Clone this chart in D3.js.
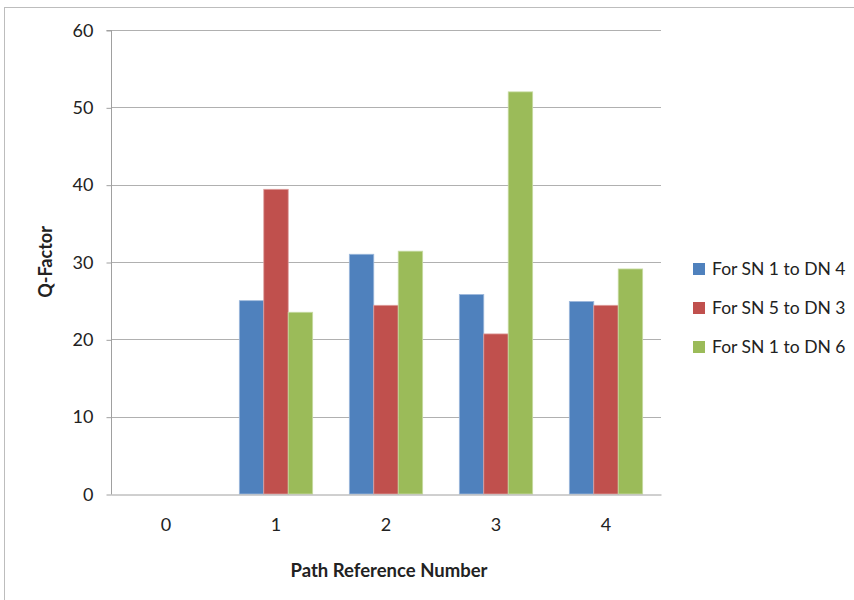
<!DOCTYPE html>
<html><head><meta charset="utf-8">
<script src="https://cdn.jsdelivr.net/npm/d3@7"></script>
<style>
html,body{margin:0;padding:0;background:#fff;}
text{font-family:Lato,"Open Sans",sans-serif;fill:#222;}
</style></head>
<body>
<svg id="chart" width="854" height="600"></svg>
<script>
const categories = ["0","1","2","3","4"];
const seriesNames = ["For SN 1 to DN 4","For SN 5 to DN 3","For SN 1 to DN 6"];
const sn1dn4 = [0, 25, 31, 25.8, 24.9];
const sn5dn3 = [0, 39.4, 24.4, 20.7, 24.4];
const sn1dn6 = [0, 23.5, 31.4, 52, 29.1];
const yTicks = [0,10,20,30,40,50,60];
const colors = ["#4F81BD","#C0504D","#9BBB59"];
const strokes = ["#9DB9DC","#DE9E9C","#C7DBA3"];
const series = [sn1dn4, sn5dn3, sn1dn6];

const svg = d3.select("#chart");
const L = 111, R = 661, T = 30, B = 494;

// outer frame
svg.append("rect").attr("x",4.5).attr("y",7.5).attr("width",870).attr("height",620)
  .attr("fill","none").attr("stroke","#bdbdbd").attr("stroke-width",1);

const x = d3.scaleBand().domain(categories).range([L,R]);
const xs = d3.scaleBand().domain(d3.range(3)).range([0,x.bandwidth()]).paddingInner(0).paddingOuter(0.75);
const y = d3.scaleLinear().domain([0,60]).range([B,T]);

// gridlines
svg.append("g").selectAll("line").data(yTicks.filter(d=>d>0)).join("line")
  .attr("x1",L).attr("x2",R).attr("y1",d=>Math.round(y(d))+0.5).attr("y2",d=>Math.round(y(d))+0.5)
  .attr("stroke","#b0b0b0").attr("stroke-width",1);

// bars
series.forEach((vals,si)=>{
  svg.append("g").selectAll("rect").data(vals.map((v,i)=>({v,c:categories[i]}))).join("rect")
    .filter(d=>d.v>0)
    .attr("x",d=>x(d.c)+xs(si))
    .attr("width",xs.bandwidth())
    .attr("y",d=>y(d.v))
    .attr("height",d=>B-y(d.v))
    .attr("fill",colors[si])
    .attr("stroke",strokes[si]).attr("stroke-width",0.8);
});

// y axis
const yAxis = d3.axisLeft(y).tickValues(yTicks).tickSize(5).tickPadding(13);
const gy = svg.append("g").attr("transform",`translate(${L+0.5},0.5)`).call(yAxis);
gy.select(".domain").attr("stroke","#a0a0a0").attr("d",`M-5,${T}H0V${B}`);
gy.selectAll(".tick line").attr("stroke","#a0a0a0");
gy.selectAll(".tick text").style("font-size","18px").style("font-family","Lato,sans-serif").attr("fill","#222");

// x axis
const xAxis = d3.axisBottom(x).tickSize(0).tickPadding(24);
const gx = svg.append("g").attr("transform",`translate(0,${B+0.5})`).call(xAxis);
gx.select(".domain").attr("stroke","#a0a0a0");
gx.selectAll(".tick text").style("font-size","18px").style("font-family","Lato,sans-serif").attr("fill","#222");

// axis titles
svg.append("text").attr("transform",`translate(52,262) rotate(-90)`).attr("text-anchor","middle")
  .style("font-size","18px").style("font-weight","bold").text("Q-Factor");
svg.append("text").attr("x",389).attr("y",577).attr("text-anchor","middle")
  .style("font-size","18.5px").style("font-weight","bold").text("Path Reference Number");

// legend
const lg = svg.append("g").attr("transform","translate(693,269)");
seriesNames.forEach((n,i)=>{
  const g = lg.append("g").attr("transform",`translate(0,${i*39})`);
  g.append("rect").attr("x",0).attr("y",-6).attr("width",12).attr("height",12).attr("fill",colors[i]);
  g.append("text").attr("x",19).attr("y",6).style("font-size",'17.5px').text(n);
});
</script>
</body></html>
